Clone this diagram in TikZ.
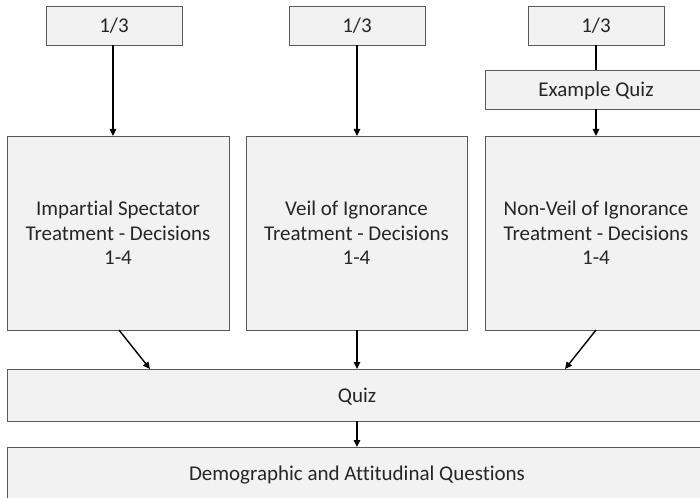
\documentclass[tikz,border=0pt]{standalone}
\usepackage{fontspec}
\setmainfont{Carlito}[Ligatures=NoCommon]
\usetikzlibrary{arrows.meta}
\definecolor{boxfill}{HTML}{F2F2F2}
\definecolor{boxline}{HTML}{595959}
\newcommand{\lowtxt}[1]{\raisebox{-2.5pt}[\height][\depth]{\begin{tabular}{@{}c@{}}#1\end{tabular}}}
\begin{document}
\begin{tikzpicture}[x=1pt,y=-1pt,
  box/.style={draw=boxline,fill=boxfill,line width=0.9pt,inner sep=0pt,outer sep=0pt,align=center,
    font=\fontsize{21}{24.5}\selectfont,text=black!85},
  arr/.style={line width=1.4pt,-{Triangle[length=7pt,width=6.5pt]}},
  ln/.style={line width=1.4pt}]
\useasboundingbox (0,0) rectangle (700,497);
\clip (0,0) rectangle (700,497);
% top boxes
\node[box,minimum width=136pt,minimum height=39pt] (p1) at (114,25.5) {\lowtxt{1/3}};
\node[box,minimum width=136pt,minimum height=39pt] (p2) at (357,25.5) {\lowtxt{1/3}};
\node[box,minimum width=136pt,minimum height=39pt] (p3) at (596,25.5) {\lowtxt{1/3}};
\node[box,minimum width=222pt,minimum height=39pt] (eq) at (596,89.5) {\lowtxt{Example Quiz}};
% treatment boxes
\node[box,minimum width=222pt,minimum height=194pt] (b1) at (118,233) {\lowtxt{Impartial Spectator\\Treatment - Decisions\\1-4}};
\node[box,minimum width=221pt,minimum height=194pt] (b2) at (356.5,233) {\lowtxt{Veil of Ignorance\\Treatment - Decisions\\1-4}};
\node[box,minimum width=222pt,minimum height=194pt] (b3) at (596,233) {\lowtxt{Non-Veil of Ignorance\\Treatment - Decisions\\1-4}};
% quiz
\node[box,minimum width=700pt,minimum height=52pt] (qz) at (357,395) {\lowtxt{Quiz}};
\node[box,minimum width=700pt,minimum height=52pt] (dq) at (357,473) {\lowtxt{Demographic and Attitudinal Questions}};
% coordinates
\coordinate (s1) at (119,330);
\coordinate (t1) at (150,369);
\coordinate (s3) at (596,330);
\coordinate (t3) at (565,369);
% arrows
\draw[arr] (p1.south -| 113,0) -- (b1.north -| 113,0);
\draw[arr] (p2.south) -- (p2.south |- b2.north);
\draw[ln] (p3.south) -- (eq.north);
\draw[arr] (eq.south) -- (eq.south |- b3.north);
\draw[arr] (s1) -- (t1);
\draw[arr] (357,330) -- (357,369);
\draw[arr] (s3) -- (t3);
\draw[arr] (qz.south) -- (dq.north);
\end{tikzpicture}
\end{document}
